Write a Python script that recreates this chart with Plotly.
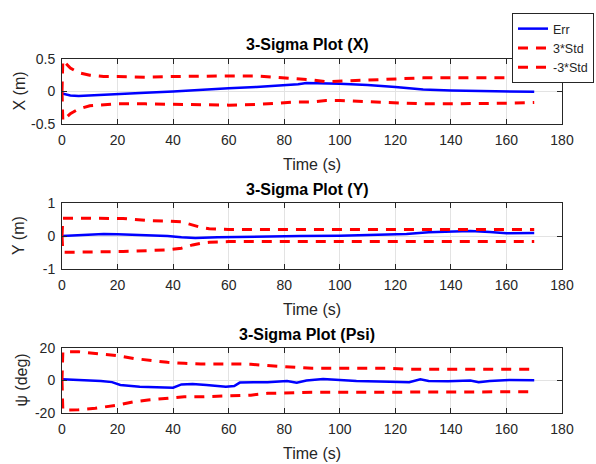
import plotly.graph_objects as go

# ---------------- data ----------------
# X subplot
t_x_std = [0, 0.3, 3, 6, 10, 15, 20, 30, 40, 50, 60, 70, 80, 85, 90, 95, 100, 105, 110, 115, 120, 125, 130, 140, 150, 160, 170]
x_std_up = [0, 0.48, 0.36, 0.29, 0.25, 0.23, 0.23, 0.22, 0.23, 0.24, 0.24, 0.24, 0.21, 0.2, 0.18, 0.15, 0.16, 0.17, 0.18, 0.18, 0.19, 0.2, 0.21, 0.21, 0.21, 0.21, 0.21]
x_std_lo = [0, -0.45, -0.34, -0.27, -0.22, -0.2, -0.19, -0.19, -0.2, -0.21, -0.21, -0.2, -0.17, -0.16, -0.16, -0.14, -0.14, -0.15, -0.15, -0.16, -0.17, -0.18, -0.19, -0.19, -0.19, -0.18, -0.17]
t_x_err = [0, 1, 3, 6, 10, 15, 20, 30, 40, 50, 60, 70, 80, 85, 88, 92, 100, 110, 115, 120, 125, 130, 140, 150, 160, 170]
x_err = [-0.03, -0.04, -0.06, -0.07, -0.06, -0.05, -0.04, -0.02, 0.0, 0.03, 0.05, 0.07, 0.09, 0.11, 0.13, 0.13, 0.12, 0.1, 0.09, 0.07, 0.05, 0.03, 0.015, 0.005, 0.0, -0.005]

# Y subplot
t_y_std = [0, 0.3, 5, 10, 18, 22, 26, 32, 38, 43, 45, 47, 50, 53, 60, 80, 100, 120, 140, 160, 170]
y_std_up = [0, 0.54, 0.54, 0.54, 0.54, 0.53, 0.5, 0.46, 0.45, 0.43, 0.38, 0.33, 0.26, 0.22, 0.2, 0.2, 0.2, 0.2, 0.2, 0.2, 0.2]
y_std_lo = [0, -0.49, -0.49, -0.49, -0.49, -0.47, -0.46, -0.44, -0.42, -0.37, -0.32, -0.27, -0.22, -0.19, -0.17, -0.17, -0.17, -0.17, -0.17, -0.17, -0.17]
t_y_err = [0, 5, 10, 15, 20, 30, 38, 43, 48, 56, 68, 86, 100, 110, 118, 124, 132, 140, 147, 154, 160, 170]
y_err = [0.0, 0.02, 0.04, 0.06, 0.05, 0.03, 0.0, -0.04, -0.06, -0.04, -0.02, 0.0, 0.01, 0.03, 0.04, 0.06, 0.11, 0.13, 0.15, 0.12, 0.08, 0.09]

# Psi subplot
t_p_std = [0, 0.3, 6, 12, 20, 26, 31, 38, 44, 50, 62, 68, 74, 80, 86, 90, 100, 117, 125, 140, 160, 170]
p_std_up = [0, 17.7, 17.7, 16.7, 15.3, 13.5, 12.6, 11.2, 10.6, 10.2, 10.2, 10.0, 9.2, 8.5, 7.9, 7.5, 7.5, 7.5, 6.9, 6.9, 6.9, 6.9]
p_std_lo = [0, -18.2, -18.0, -17.1, -15.1, -13.0, -12.0, -10.8, -10.0, -10.0, -9.5, -9.0, -7.9, -7.6, -7.3, -7.3, -7.3, -7.3, -6.9, -6.9, -6.9, -6.9]
t_p_err = [0, 5, 10, 14, 18, 21, 28, 37, 40, 43, 47, 52, 59, 62, 64, 69, 74, 81, 84.5, 88, 94, 100, 106, 118, 125, 129, 132, 139, 147, 150, 154, 161, 170]
p_err = [0.7, 0.5, 0.0, -0.3, -1.0, -2.8, -3.8, -4.2, -4.4, -2.4, -2.2, -2.8, -3.8, -3.4, -1.3, -1.1, -1.1, -0.3, -1.3, 0.0, 0.9, 0.3, -0.3, -0.7, -1.1, 0.7, -0.3, -0.5, 0.0, -1.0, -0.3, 0.3, 0.1]

# ticks / labels
x_ticks = [0, 20, 40, 60, 80, 100, 120, 140, 160, 180]
x_ticktext = ["0", "20", "40", "60", "80", "100", "120", "140", "160", "180"]
yx_ticks = [-0.5, 0, 0.5]
yx_ticktext = ["-0.5", "0", "0.5"]
yy_ticks = [-1, 0, 1]
yy_ticktext = ["-1", "0", "1"]
yp_ticks = [-20, 0, 20]
yp_ticktext = ["-20", "0", "20"]
titles = ["3-Sigma Plot (X)", "3-Sigma Plot (Y)", "3-Sigma Plot (Psi)"]
ylabels = ["X (m)", "Y (m)", "ψ (deg)"]
xlabel = "Time (s)"
legend_names = ["Err", "3*Std", "-3*Std"]

# ---------------- layout helpers ----------------
W, H = 596, 464
FONT = "Liberation Sans, Arial, Helvetica, sans-serif"
AX = "#262626"
GRID = "#e3e3e3"
BLUE = "#0000ff"
RED = "#ff0000"

def fy(p):
    return 1 - p / H

x_dom = [62 / W, 562 / W]
plot_px = [(59, 124), (203, 269), (348, 413)]

fig = go.Figure()

series = [
    (t_x_err, x_err, t_x_std, x_std_up, x_std_lo),
    (t_y_err, y_err, t_y_std, y_std_up, y_std_lo),
    (t_p_err, p_err, t_p_std, p_std_up, p_std_lo),
]

for i, (te, e, ts, su, sl) in enumerate(series):
    xa = "x" if i == 0 else f"x{i+1}"
    ya = "y" if i == 0 else f"y{i+1}"
    show = i == 0
    fig.add_trace(go.Scatter(x=te, y=e, mode="lines", name=legend_names[0],
                             line=dict(color=BLUE, width=2.5), xaxis=xa, yaxis=ya,
                             showlegend=show))
    fig.add_trace(go.Scatter(x=ts, y=su, mode="lines", name=legend_names[1],
                             line=dict(color=RED, width=3, dash="10px,8px"), xaxis=xa, yaxis=ya,
                             showlegend=show))
    fig.add_trace(go.Scatter(x=ts, y=sl, mode="lines", name=legend_names[2],
                             line=dict(color=RED, width=3, dash="10px,8px"), xaxis=xa, yaxis=ya,
                             showlegend=show))

ytick_sets = [(yx_ticks, yx_ticktext, [-0.5, 0.5]),
              (yy_ticks, yy_ticktext, [-1, 1]),
              (yp_ticks, yp_ticktext, [-20, 20])]

layout = dict(
    width=W, height=H,
    margin=dict(l=0, r=0, t=0, b=0, autoexpand=False),
    paper_bgcolor="white", plot_bgcolor="white",
    font=dict(family=FONT, color=AX),
    showlegend=True,
    legend=dict(x=594 / W, y=fy(13), xanchor="right", yanchor="top",
                bgcolor="white", bordercolor=AX, borderwidth=1,
                font=dict(size=12.5, family=FONT, color=AX),
                itemwidth=30, tracegroupgap=0),
)

annotations = []
for i in range(3):
    top, bot = plot_px[i]
    xk = "xaxis" if i == 0 else f"xaxis{i+1}"
    yk = "yaxis" if i == 0 else f"yaxis{i+1}"
    ya = "y" if i == 0 else f"y{i+1}"
    xa = "x" if i == 0 else f"x{i+1}"
    layout[xk] = dict(domain=x_dom, anchor=ya, range=[0, 180],
                      tickvals=x_ticks, ticktext=x_ticktext,
                      showline=True, mirror="ticks", linecolor=AX, linewidth=1,
                      ticks="inside", ticklen=5, tickcolor=AX,
                      showgrid=True, gridcolor=GRID, gridwidth=1, zeroline=False,
                      tickfont=dict(size=14, family=FONT, color=AX),
                      ticklabelstandoff=3, automargin=False)
    tv, tt, rng = ytick_sets[i]
    layout[yk] = dict(domain=[fy(bot), fy(top)], anchor=xa, range=rng,
                      tickvals=tv, ticktext=tt,
                      showline=True, mirror="ticks", linecolor=AX, linewidth=1,
                      ticks="inside", ticklen=5, tickcolor=AX,
                      showgrid=True, gridcolor=GRID, gridwidth=1, zeroline=False,
                      tickfont=dict(size=14, family=FONT, color=AX),
                      ticklabelstandoff=3, automargin=False)
    # title
    annotations.append(dict(text="<b>" + titles[i] + "</b>", xref="paper", yref="paper",
                            x=307 / W, y=fy(top - 14), xanchor="center", yanchor="middle",
                            showarrow=False, font=dict(size=16, family=FONT, color="black")))
    # x label
    annotations.append(dict(text=xlabel, xref="paper", yref="paper",
                            x=312 / W, y=fy(bot + 40), xanchor="center", yanchor="middle",
                            showarrow=False, font=dict(size=16, family=FONT, color=AX)))
    # y label
    annotations.append(dict(text=ylabels[i], xref="paper", yref="paper",
                            x=(19 if i < 2 else 21) / W, y=fy((top + bot) / 2),
                            xanchor="center", yanchor="middle", textangle=-90,
                            showarrow=False, font=dict(size=16, family=FONT, color=AX)))

layout["annotations"] = annotations
fig.update_layout(**layout)

fig.write_html("out.html")
